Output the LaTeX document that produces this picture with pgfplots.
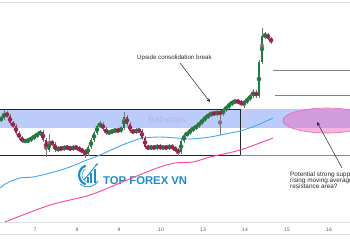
\documentclass[border=0pt]{standalone}
\usepackage{fontspec}
\setmainfont{Liberation Sans}
\usepackage{pgfplots}
\pgfplotsset{compat=1.18}
\usepackage{pgfplotstable}
\usetikzlibrary{arrows.meta}
\definecolor{bandblue}{RGB}{188,204,250}
\definecolor{wmark}{RGB}{168,184,236}
\definecolor{upgreen}{RGB}{30,125,60}
\definecolor{downred}{RGB}{155,35,80}
\definecolor{wickgray}{RGB}{120,120,120}
\definecolor{mablue}{RGB}{66,165,245}
\definecolor{mapink}{RGB}{255,64,160}
\definecolor{ellfill}{RGB}{230,110,190}
\definecolor{ellline}{RGB}{236,95,181}
\definecolor{logoblue}{RGB}{29,140,200}
\definecolor{tickgray}{RGB}{90,90,90}
\definecolor{txtgray}{RGB}{40,40,40}

\pgfplotstableread{
x o h l c
1 130 134 128 132
4 132 140 130 137
7 137 139 132 134
10 134 136 125 127
13 127 129 122 124
16 124 126 115 117
19 117 119 110 112
22 112 114 107 109
25 109 111 107 109
28 109 112 107 110
31 110 114 108 112
34 112 116 110 114
37 114 118 112 116
40 116 120 114 118
43 118 120 108 110
46 110 112 93 100
49 100 116 98 108
52 108 110 104 106
55 106 108 98 100
58 100 104 98 102
61 102 104 99 101
64 101 105 99 103
67 103 105 100 102
70 102 104 99 101
73 101 105 99 103
76 103 105 100 102
79 102 104 98 100
82 100 102 97 99
85 99 101 92 96
88 96 105 94 103
91 103 112 101 110
94 110 119 108 117
97 117 126 115 124
100 124 129 122 126
103 126 128 119 121
106 121 123 115 117
109 117 120 115 118
112 118 121 116 119
115 119 122 117 120
118 120 122 117 119
121 119 124 117 122
124 122 138 120 133
127 133 135 124 126
130 126 128 117 119
133 119 121 116 118
136 118 122 116 120
139 120 122 117 119
142 119 121 110 112
145 112 114 101 103
148 103 105 100 102
151 102 105 100 103
154 103 105 100 102
157 102 106 100 104
160 104 106 100 102
163 102 105 100 103
166 103 105 100 102
169 102 106 100 104
172 104 106 100 102
175 102 104 98 100
178 100 102 94 98
181 98 111 96 109
184 109 117 107 115
187 115 119 113 117
190 117 122 115 120
193 120 124 118 122
196 122 126 120 124
199 124 129 122 127
202 127 132 125 130
205 130 135 128 133
208 133 137 131 135
211 135 139 133 137
214 137 139 134 136
217 136 140 134 138
220 138 140 115 136
223 136 142 134 140
226 140 145 138 143
229 143 148 141 146
232 146 150 144 148
235 148 151 146 149
238 149 151 146 148
241 148 150 144 146
244 146 150 142 148
247 148 153 146 151
250 151 156 149 154
253 154 161 152 158
256 158 160 152 154
259 154 190 152 188
262 188 222 186 214
265 214 218 211 215
268 215 217 210 212
271 212 213 206 208
}\candles

\begin{document}
\begin{tikzpicture}
\begin{axis}[
  scale only axis, width=350pt, height=220pt,
  xmin=0, xmax=350, ymin=28, ymax=248,
  axis line style={draw=none},
  ytick=\empty,
  xtick={35,77,119,161,203,245,287,329},
  xticklabels={7,8,9,10,13,14,15,16},
  major tick length=0pt,
  xticklabel style={font=\fontsize{5}{6}\selectfont, text=tickgray, yshift=-2.5pt},
  /pgf/number format/assume math mode=true,
]
% page corners
\coordinate (pgsw) at (axis cs:0,0);
\coordinate (pgne) at (axis cs:350,250);
\coordinate (lowa) at (axis cs:0,16);
\coordinate (lowb) at (axis cs:350,16);
% frame lines
\draw[black!12, line width=0.4pt] (axis cs:0,248) -- (axis cs:350,248);
\draw[black!12, line width=0.4pt] (axis cs:0,28) -- (axis cs:350,28);
% consolidation band and box
\fill[bandblue] (axis cs:0,122) rectangle (axis cs:350,141);
\node[text=wmark, font=\fontsize{9}{9}\selectfont] at (axis cs:167,130) {Babypips};
\draw[black!85, line width=0.7pt] (axis cs:0,141) -- (axis cs:240,141) -- (axis cs:240,95) -- (axis cs:0,95);
\draw[black!45, line width=0.6pt] (axis cs:240,95) -- (axis cs:350,95);
% ellipse
\fill[ellfill, fill opacity=0.5] (axis cs:327,129.5) ellipse[x radius=44pt, y radius=12.5pt];
\draw[ellline, line width=0.6pt] (axis cs:327,129.5) ellipse[x radius=44pt, y radius=12.5pt];
% levels on the right
\draw[black!50, line width=0.6pt] (axis cs:273,180) -- (axis cs:350,180);
\draw[black!50, line width=0.6pt] (axis cs:275,155) -- (axis cs:350,155);

% logo
\draw[logoblue, line width=2.2pt] (axis cs:85.6,65.6) arc[start angle=250, end angle=110, radius=10pt];
\draw[logoblue!70, line width=0.8pt] (axis cs:86.6,68.4) arc[start angle=250, end angle=120, radius=7pt];
\fill[logoblue] (axis cs:86.5,67) rectangle (axis cs:88.5,73);
\fill[logoblue] (axis cs:90,67) rectangle (axis cs:92,77);
\fill[logoblue] (axis cs:93.5,67) rectangle (axis cs:95.5,81);
\draw[logoblue, line width=0.9pt, -{Stealth[length=3pt]}] (axis cs:84,70) -- (axis cs:98,87);
\draw[logoblue!80, line width=1pt] (axis cs:80,66) arc[start angle=230, end angle=330, radius=12pt];
\node[anchor=base west, text=logoblue, font=\bfseries\fontsize{11.3}{12}\selectfont, inner sep=0pt] at (axis cs:103,66) {TOP FOREX VN};

% moving averages
\addplot[mablue, line width=0.9pt, smooth] coordinates {
(0,62) (7,67) (20,72) (33,73) (50,77) (67,82) (87,90) (100,95) (120,104) (133,109) (143,112) (160,113) (177,112) (190,111) (210,113) (230,117) (240,119) (255,124) (273,132)};
\addplot[mapink, line width=0.9pt, smooth] coordinates {
(5,28) (50,45) (90,55) (127,70) (157,82) (175,87) (193,88) (210,93) (240,100) (273,112)};

% wicks
\addplot[wickgray, only marks, mark=none, error bars/.cd, y dir=both, y explicit, error mark=none,
  error bar style={line width=0.4pt, color=wickgray}]
  table[x=x, y expr={(\thisrow{h}+\thisrow{l})/2}, y error expr={(\thisrow{h}-\thisrow{l})/2}] {\candles};
% up bodies
\addplot[upgreen, only marks, mark=none, restrict expr to domain={\thisrow{c}-\thisrow{o}}{0:1000},
  error bars/.cd, y dir=both, y explicit, error mark=none,
  error bar style={line width=1.1pt, color=upgreen}]
  table[x=x, y expr={(\thisrow{o}+\thisrow{c})/2}, y error expr={max(abs(\thisrow{c}-\thisrow{o})/2,0.4)}] {\candles};
% down bodies
\addplot[downred, only marks, mark=none, restrict expr to domain={\thisrow{c}-\thisrow{o}}{-1000:-0.5},
  error bars/.cd, y dir=both, y explicit, error mark=none,
  error bar style={line width=1.1pt, color=downred}]
  table[x=x, y expr={(\thisrow{o}+\thisrow{c})/2}, y error expr={max(abs(\thisrow{c}-\thisrow{o})/2,0.4)}] {\candles};

% annotations
\node[anchor=west, text=txtgray, font=\fontsize{6.2}{7}\selectfont, inner sep=0pt] at (axis cs:137,192) {Upside consolidation break};
\draw[txtgray, line width=0.5pt, -{Stealth[length=4pt,width=3.5pt]}] (axis cs:180,187) -- (axis cs:210,148);
\draw[txtgray, line width=0.5pt, -{Stealth[length=4pt,width=3.5pt]}] (axis cs:342,82) -- (axis cs:317,128);
\end{axis}
\draw[black!12, line width=0.4pt] (lowa) -- (lowb);
\node[anchor=north west, text=txtgray, font=\fontsize{6.4}{6.3}\selectfont, inner sep=0pt, align=left] at ([yshift=-0.5pt]pgsw |- 0,50.5pt) {};
\pgfresetboundingbox
\useasboundingbox (pgsw) rectangle (pgne);
\begin{scope}
\clip (pgsw) rectangle (pgne);
\node[anchor=north west, text=txtgray, font=\fontsize{6.4}{6.3}\selectfont, inner sep=0pt, align=left] at (290pt,50.5pt)
  {Potential strong support at\\rising moving average and\\resistance area?};
\end{scope}
\end{tikzpicture}
\end{document}
